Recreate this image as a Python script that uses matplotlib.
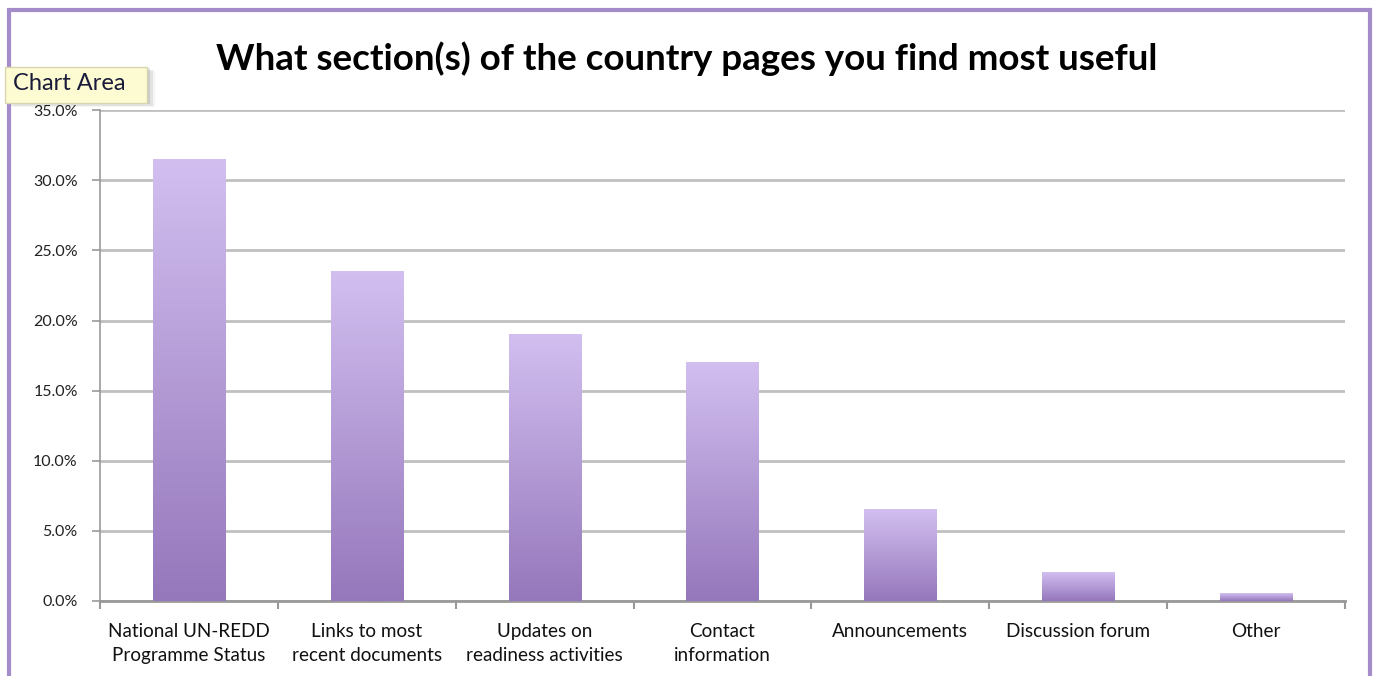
import numpy as np
import matplotlib.pyplot as plt
from matplotlib.colors import LinearSegmentedColormap
from matplotlib.patches import Rectangle

plt.rcParams['font.family'] = ['Lato', 'DejaVu Sans']

# data
categories = ["National UN-REDD\nProgramme Status", "Links to most\nrecent documents",
              "Updates on\nreadiness activities", "Contact\ninformation",
              "Announcements", "Discussion forum", "Other"]
values = [31.5, 23.5, 19.0, 17.0, 6.5, 2.0, 0.5]
yticks = [0, 5, 10, 15, 20, 25, 30, 35]

fig = plt.figure(figsize=(13.74, 6.76), dpi=100)
ax = fig.add_axes([0.0728, 0.111, 0.906, 0.726])

# light lavender at top, darker purple at bottom
cmap = LinearSegmentedColormap.from_list("lav", ["#9577bb", "#d2bff0"])
grad = np.linspace(0, 1, 256).reshape(-1, 1)
width = 0.405
x = np.arange(len(values))
for xi, v in zip(x, values):
    ax.imshow(grad, cmap=cmap, aspect='auto', origin='lower',
              extent=[xi - width / 2, xi + width / 2, 0, v], zorder=3)

ax.set_xlim(-0.5, len(values) - 0.5)
ax.set_ylim(0, 35)
ax.set_yticks(yticks)
ax.set_yticklabels([f"{t:.1f}%" for t in yticks], fontsize=11.5, color="#222222")
ax.set_xticks(x)
ax.set_xticklabels(categories, fontsize=13.6, color="#111111", linespacing=1.5)
ax.tick_params(axis='x', length=0, pad=16)
ax.tick_params(axis='y', length=6, color="#999999", width=1.2, pad=10)
ax.set_xticks(np.arange(len(values) + 1) - 0.5, minor=True)
ax.tick_params(axis='x', which='minor', length=6, color="#999999", width=1.5, direction='out')

ax.grid(axis='y', color="#c0c0c0", linewidth=2, zorder=1)
ax.set_axisbelow(True)
for s in ['top', 'right']:
    ax.spines[s].set_visible(False)
ax.spines['left'].set_color("#999999")
ax.spines['left'].set_linewidth(1.2)
ax.spines['bottom'].set_color("#999999")
ax.spines['bottom'].set_linewidth(2)

fig.text(0.5, 0.913, "What section(s) of the country pages you find most useful",
         ha='center', va='center', fontsize=26.5, fontweight='bold', color="#000000")

# outer chart border
fig.patches.append(Rectangle((0.0068, -0.05), 0.9905, 1.035, transform=fig.transFigure,
                             fill=False, edgecolor="#a48ccb", linewidth=3))

# "Chart Area" tooltip with a soft shadow
for k, a in enumerate([0.10, 0.07, 0.04]):
    d = 0.002 * (k + 1)
    fig.patches.append(Rectangle((0.0036 + d, 0.8476 - d), 0.1034, 0.0534,
                                 transform=fig.transFigure, facecolor="#000000",
                                 alpha=a, edgecolor='none', zorder=9))
fig.patches.append(Rectangle((0.0036, 0.8476), 0.1034, 0.0534, transform=fig.transFigure,
                             facecolor="#fdfbd2", edgecolor="#d8d6b0", linewidth=1, zorder=10))
fig.text(0.0095, 0.876, "Chart Area", ha='left', va='center', fontsize=17,
         color="#1a1a3a", zorder=11)

fig.savefig("out.png", dpi=100)
